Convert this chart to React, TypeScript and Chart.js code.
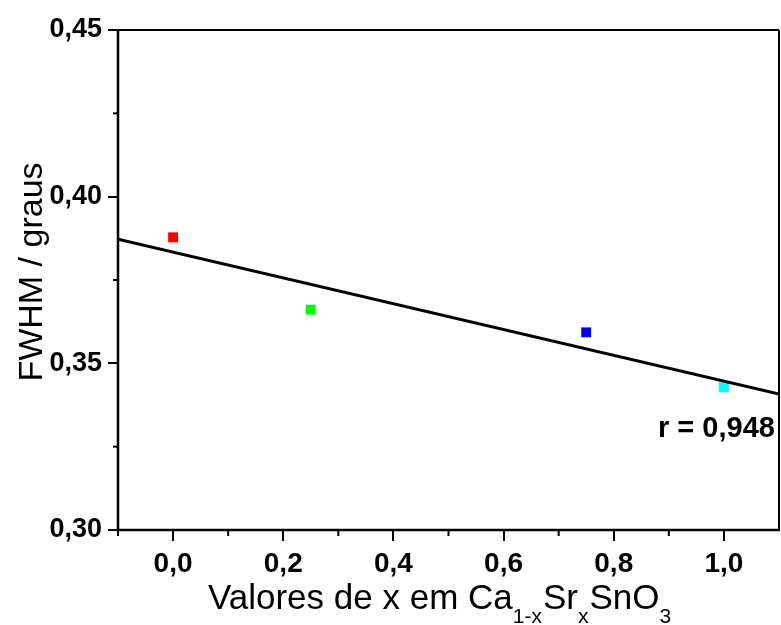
import React, { useEffect, useRef } from "react";
import { Chart, registerables } from "chart.js";

Chart.register(...registerables);

const POINT_X = [0.0, 0.25, 0.75, 1.0];
const POINT_Y = [0.3878, 0.3661, 0.3593, 0.3428];
const POINT_COLORS = ["#ff0000", "#00ff00", "#0000ff", "#00ffff"];
const LINE_X = [-0.1, 1.1];
const LINE_Y = [0.3872, 0.3408];
const X_TICKS = [0.0, 0.2, 0.4, 0.6, 0.8, 1.0];
const X_MINOR = [-0.1, 0.1, 0.3, 0.5, 0.7, 0.9];
const Y_TICKS = [0.3, 0.35, 0.4, 0.45];
const Y_MINOR = [0.325, 0.375, 0.425];
const Y_TITLE = "FWHM / graus";
const R_LABEL = "r = 0,948";

const FONT = "'Liberation Sans', Arial, sans-serif";

const decorPlugin = {
  id: "decor",
  afterDraw(chart: any) {
    const ctx = chart.ctx;
    const { left, right, top, bottom } = chart.chartArea;
    const xs = chart.scales.x;
    const ys = chart.scales.y;
    ctx.save();
    ctx.fillStyle = "#000";
    ctx.strokeStyle = "#000";
    ctx.lineWidth = 2;
    ctx.beginPath();
    ctx.moveTo(left, top);
    ctx.lineTo(right, top);
    ctx.stroke();
    ctx.beginPath();
    ctx.moveTo(right, top);
    ctx.lineTo(right, bottom);
    ctx.stroke();
    ctx.lineWidth = 2.5;
    ctx.beginPath();
    ctx.moveTo(left, top - 1);
    ctx.lineTo(left, bottom + 1);
    ctx.stroke();
    ctx.beginPath();
    ctx.moveTo(left - 1, bottom);
    ctx.lineTo(right + 1, bottom);
    ctx.stroke();
    ctx.lineWidth = 2;
    X_MINOR.forEach((v) => {
      const px = xs.getPixelForValue(v);
      ctx.beginPath();
      ctx.moveTo(px, bottom);
      ctx.lineTo(px, bottom + 6);
      ctx.stroke();
    });
    Y_MINOR.forEach((v) => {
      const py = ys.getPixelForValue(v);
      ctx.beginPath();
      ctx.moveTo(left, py);
      ctx.lineTo(left - 5, py);
      ctx.stroke();
    });
    ctx.font = `bold 29px ${FONT}`;
    ctx.textAlign = "left";
    ctx.textBaseline = "alphabetic";
    ctx.fillText(R_LABEL, 658, 437);
    let x = 208;
    const base = 609;
    const subBase = 623;
    const parts: [string, boolean][] = [
      ["Valores de x em Ca", false],
      ["1-x", true],
      ["Sr", false],
      ["x", true],
      ["SnO", false],
      ["3", true],
    ];
    parts.forEach(([t, sub]) => {
      ctx.font = sub ? `21px ${FONT}` : `35px ${FONT}`;
      ctx.fillText(t, x, sub ? subBase : base);
      x += ctx.measureText(t).width + (sub ? 1 : 0);
    });
    ctx.save();
    ctx.translate(42, 272);
    ctx.rotate(-Math.PI / 2);
    ctx.font = `34px ${FONT}`;
    ctx.textAlign = "center";
    ctx.fillText(Y_TITLE, 0, 0);
    ctx.restore();
    ctx.restore();
  },
};

export default function App() {
  const ref = useRef<HTMLCanvasElement>(null);
  useEffect(() => {
    if (!ref.current) return;
    const chart = new Chart(ref.current, {
      type: "scatter",
      data: {
        datasets: [
          {
            type: "line",
            data: LINE_X.map((x, i) => ({ x, y: LINE_Y[i] })),
            borderColor: "#000",
            borderWidth: 3,
            pointRadius: 0,
            fill: false,
          } as any,
          {
            data: POINT_X.map((x, i) => ({ x, y: POINT_Y[i] })),
            backgroundColor: POINT_COLORS,
            borderWidth: 0,
            pointStyle: "rect",
            pointRadius: 7,
          },
        ],
      },
      options: {
        animation: false,
        responsive: false,
        layout: { autoPadding: false, padding: { top: 30, right: 2, left: 0, bottom: 0 } },
        plugins: { legend: { display: false }, tooltip: { enabled: false } },
        scales: {
          x: {
            type: "linear",
            min: -0.1,
            max: 1.1,
            afterBuildTicks: (s: any) => {
              s.ticks = X_TICKS.map((v) => ({ value: v }));
            },
            afterFit: (s: any) => {
              s.height = 95;
              s.paddingLeft = 0;
              s.paddingRight = 0;
            },
            border: { display: false },
            grid: {
              drawOnChartArea: false,
              drawTicks: true,
              tickLength: 11,
              color: "#000",
              lineWidth: 2,
            },
            ticks: {
              color: "#000",
              padding: 6,
              maxRotation: 0,
              font: { family: FONT, size: 28, weight: "bold" },
              callback: (v: any) => Number(v).toFixed(1).replace(".", ","),
            },
          },
          y: {
            type: "linear",
            min: 0.3,
            max: 0.45,
            afterBuildTicks: (s: any) => {
              s.ticks = Y_TICKS.map((v) => ({ value: v }));
            },
            afterFit: (s: any) => {
              s.width = 118;
              s.paddingTop = 0;
              s.paddingBottom = 0;
            },
            border: { display: false },
            grid: {
              drawOnChartArea: false,
              drawTicks: true,
              tickLength: 10,
              color: "#000",
              lineWidth: 2,
            },
            ticks: {
              color: "#000",
              padding: 6,
              font: { family: FONT, size: 27, weight: "bold" },
              callback: (v: any) => Number(v).toFixed(2).replace(".", ","),
            },
          },
        },
      },
      plugins: [decorPlugin],
    });
    return () => chart.destroy();
  }, []);
  return (
    <div style={{ position: "absolute", left: 0, top: 0, width: 781, height: 625, background: "#fff" }}>
      <canvas ref={ref} width={781} height={625} />
    </div>
  );
}
